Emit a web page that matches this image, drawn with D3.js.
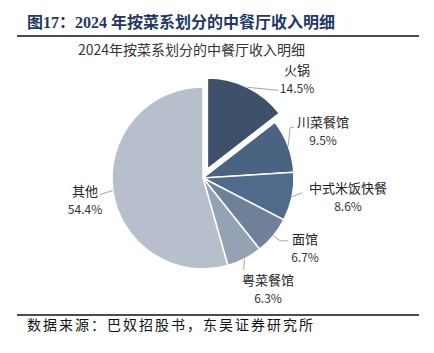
<!DOCTYPE html>
<html>
<head>
<meta charset="utf-8">
<script src="https://cdn.jsdelivr.net/npm/d3@7"></script>
<style>
  html, body { margin: 0; padding: 0; background: #fff; }
  svg { display: block; }
</style>
</head>
<body>
<div id="chart"></div>
<script>
// Data
const categories = ['火锅', '川菜餐馆', '中式米饭快餐', '面馆', '粤菜餐馆', '其他'];
const shares = [14.5, 9.5, 8.6, 6.7, 6.3, 54.4];
const sliceColors = ['#3e506a', '#4a6381', '#4f6a8b', '#6e8199', '#94a2b4', '#b8bfcc'];

const figureTitle = '图17：2024 年按菜系划分的中餐厅收入明细';
const chartTitle = '2024年按菜系划分的中餐厅收入明细';
const sourceNote = '数据来源：巴奴招股书，东吴证券研究所';

// Layout
const width = 434, height = 353;
const center = { x: 203, y: 178 };
const radius = 91;
const explode = { '火锅': 10 };
// leader elbows (relative to the arc point) and label centre (relative to centre of pie)
const labelLayout = {
    '火锅':       { leader: [[31, 3]], label: [94, -108] },
    '川菜餐馆':   { leader: [[2, -18], [6, -19]], label: [120, -56] },
    '中式米饭快餐': { leader: [[10, -4]], label: [145, 10] },
    '面馆':       { leader: [[7, 5], [15, 5]], label: [102, 61] },
    '粤菜餐馆':   { leader: [[-1, 11]], label: [65, 102] },
    '其他':       { leader: [[-13, 4]], label: [-118, 13] }
};

const svg = d3.select('#chart').append('svg')
    .attr('width', width)
    .attr('height', height);

// Header / footer
svg.append('text')
    .attr('x', 27).attr('y', 28)
    .attr('font-family', '"Liberation Serif", "Noto Sans CJK SC", serif')
    .attr('font-weight', 'bold')
    .attr('font-size', 16)
    .attr('fill', '#1f3864')
    .text(figureTitle);
svg.append('line')
    .attr('x1', 17).attr('x2', 419).attr('y1', 36).attr('y2', 36)
    .attr('stroke', '#111').attr('stroke-width', 1.5);
svg.append('text')
    .attr('x', 191.5).attr('y', 55)
    .attr('text-anchor', 'middle')
    .attr('font-family', '"Noto Sans CJK SC", sans-serif')
    .attr('font-size', 14)
    .attr('fill', '#333')
    .text(chartTitle);
svg.append('line')
    .attr('x1', 17).attr('x2', 419).attr('y1', 315).attr('y2', 315)
    .attr('stroke', '#111').attr('stroke-width', 1.5);
svg.append('text')
    .attr('x', 27).attr('y', 330)
    .attr('font-family', '"Noto Sans CJK SC", serif')
    .attr('font-size', 14)
    .attr('letter-spacing', 2)
    .attr('fill', '#111')
    .text(sourceNote);

// Pie
const data = categories.map((c, i) => ({ name: c, value: shares[i], color: sliceColors[i] }));
const pie = d3.pie().sort(null).value(d => d.value).startAngle(0).endAngle(2 * Math.PI);
const arcs = pie(data);
const arc = d3.arc().innerRadius(0).outerRadius(radius);
const midAngle = d => (d.startAngle + d.endAngle) / 2;
const offsetOf = d => {
    const o = explode[d.data.name] || 0;
    const a = midAngle(d);
    return [Math.sin(a) * o, -Math.cos(a) * o];
};

const g = svg.append('g').attr('transform', `translate(${center.x}, ${center.y})`);
g.selectAll('path.slice').data(arcs)
    .join('path')
    .attr('class', 'slice')
    .attr('transform', d => `translate(${offsetOf(d)})`)
    .attr('d', arc)
    .attr('fill', d => d.data.color)
    .attr('stroke', '#fff')
    .attr('stroke-width', 1.5);

// Leader lines
g.selectAll('path.leader').data(arcs)
    .join('path')
    .attr('class', 'leader')
    .attr('fill', 'none')
    .attr('stroke', '#a6a6a6')
    .attr('stroke-width', 1)
    .attr('d', d => {
        const [ox, oy] = offsetOf(d);
        const a = midAngle(d);
        const p0 = [ox + Math.sin(a) * radius, oy - Math.cos(a) * radius];
        const pts = [p0].concat(labelLayout[d.data.name].leader.map(([dx, dy]) => [p0[0] + dx, p0[1] + dy]));
        return d3.line()(pts);
    });

// Labels
const fmt = d3.format('.1f');
const labels = g.selectAll('g.label').data(arcs)
    .join('g')
    .attr('class', 'label')
    .attr('transform', d => `translate(${labelLayout[d.data.name].label})`)
    .attr('font-family', '"Noto Sans CJK SC", sans-serif')
    .attr('text-anchor', 'middle')
    .attr('fill', '#222');
labels.append('text')
    .attr('y', 4.5)
    .attr('font-size', 13)
    .text(d => d.data.name);
labels.append('text')
    .attr('y', 22.5)
    .attr('font-size', 12)
    .attr('fill', '#333')
    .text(d => `${fmt(d.data.value)}%`);
</script>
</body>
</html>
